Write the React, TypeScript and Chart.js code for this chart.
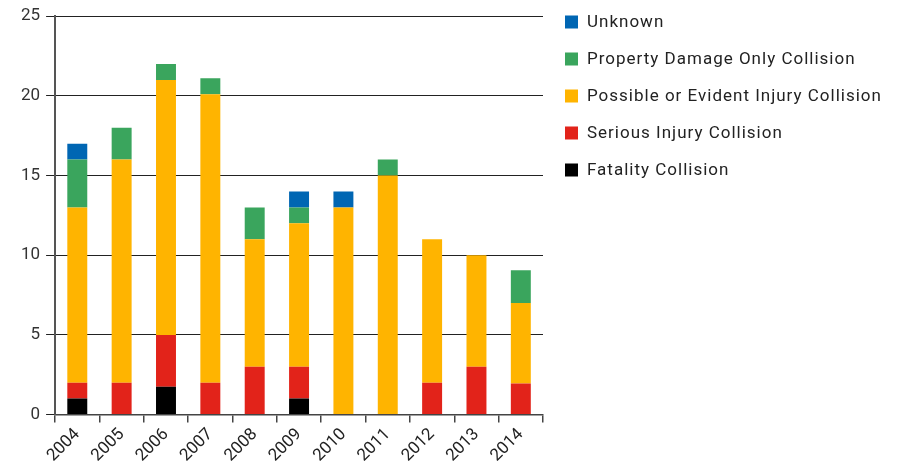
import React, { useEffect, useRef } from "react";
import { Chart, registerables } from "chart.js";

Chart.register(...registerables);

const years = ["2004", "2005", "2006", "2007", "2008", "2009", "2010", "2011", "2012", "2013", "2014"];
const fatality = [1, 0, 1.75, 0, 0, 1, 0, 0, 0, 0, 0];
const serious = [1, 2, 3.25, 2, 3, 2, 0, 0, 2, 3, 1.95];
const possible = [11, 14, 16, 18.1, 8, 9, 13, 15, 9, 7, 5.05];
const property = [3, 2, 1, 1, 2, 1, 0, 1, 0, 0, 2.05];
const unknown = [1, 0, 0, 0, 0, 1, 1, 0, 0, 0, 0];

const seriesNames = [
  "Fatality Collision",
  "Serious Injury Collision",
  "Possible or Evident Injury Collision",
  "Property Damage Only Collision",
  "Unknown",
];
const seriesColors = ["#000000", "#e2231a", "#ffb400", "#3aa55d", "#0066b3"];
const yTicks = [0, 5, 10, 15, 20, 25];

const FONT = "Roboto, 'Liberation Sans', sans-serif";

const legendPlugin = {
  id: "sideLegend",
  afterDraw(chart: any) {
    const ctx = chart.ctx;
    const x0 = chart.chartArea.right + 22;
    const y0 = 22;
    const step = 37;
    ctx.save();
    ctx.font = `17px ${FONT}`;
    (ctx as any).letterSpacing = "1px";
    ctx.textBaseline = "middle";
    ctx.textAlign = "left";
    const n = chart.data.datasets.length;
    for (let i = 0; i < n; i++) {
      const ds = chart.data.datasets[n - 1 - i];
      const cy = y0 + i * step;
      ctx.fillStyle = ds.backgroundColor;
      ctx.fillRect(x0, cy - 6.5, 13, 13);
      ctx.fillStyle = "#222";
      ctx.fillText(ds.label, x0 + 22, cy + 1);
    }
    ctx.restore();
  },
};

export default function App() {
  const ref = useRef<HTMLCanvasElement>(null);
  useEffect(() => {
    const dataArrays = [fatality, serious, possible, property, unknown];
    const chart = new Chart(ref.current!, {
      type: "bar",
      data: {
        labels: years,
        datasets: dataArrays.map((d, i) => ({
          label: seriesNames[i],
          data: d,
          backgroundColor: seriesColors[i],
          borderWidth: 0,
          barPercentage: 0.45,
          categoryPercentage: 1,
        })),
      },
      options: {
        animation: false,
        responsive: false,
        maintainAspectRatio: false,
        layout: { padding: { top: 8, right: 356, left: 15, bottom: 4 } },
        plugins: {
          legend: { display: false },
          tooltip: { enabled: false },
        },
        scales: {
          x: {
            stacked: true,
            grid: {
              offset: true,
              drawOnChartArea: false,
              drawTicks: true,
              tickLength: 8,
              color: "#444",
              lineWidth: 1.5,
            },
            border: { color: "#444", width: 1.5 },
            ticks: {
              minRotation: 45,
              maxRotation: 45,
              color: "#222",
              font: { family: FONT, size: 17 },
              padding: 2,
            },
          },
          y: {
            stacked: true,
            min: 0,
            max: 25,
            afterBuildTicks: (axis: any) => {
              axis.ticks = yTicks.map((v) => ({ value: v }));
            },
            grid: {
              color: "#222",
              lineWidth: 1,
              tickLength: 9,
            },
            border: { color: "#555", width: 2 },
            ticks: {
              color: "#333",
              font: { family: FONT, size: 17 },
              padding: 6,
            },
          },
        },
      },
      plugins: [legendPlugin],
    });
    return () => chart.destroy();
  }, []);
  return (
    <div style={{ position: "fixed", left: 0, top: 0, width: 899, height: 472, background: "#fff" }}>
      <canvas ref={ref} width={899} height={472} style={{ width: 899, height: 472 }} />
    </div>
  );
}
